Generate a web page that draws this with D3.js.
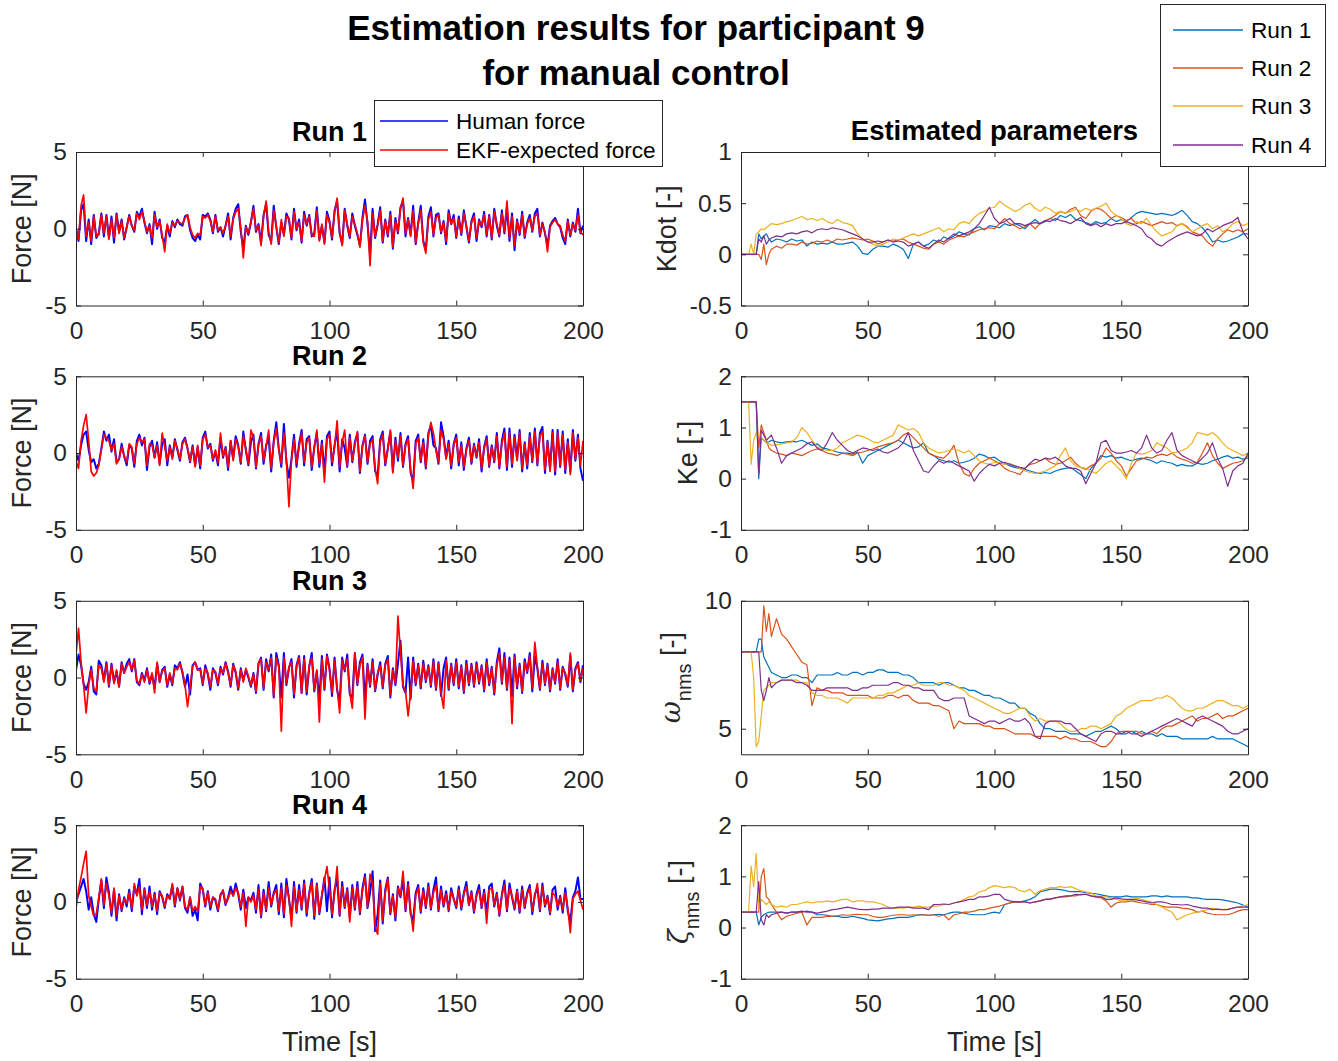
<!DOCTYPE html>
<html>
<head>
<meta charset="utf-8">
<script src="https://cdn.jsdelivr.net/npm/d3@7"></script>
<style>
  body { margin: 0; background: #fff; }
  text { font-family: Arial, "Liberation Sans", Helvetica, sans-serif; }
</style>
</head>
<body>
<svg id="fig" width="1338" height="1061"></svg>
<script>
// ---------- sample grids ----------
const forceTime = d3.range(0, 201);                               // force logged once per second
const paramTime = d3.range(0, 12).concat(d3.range(12, 201, 2));   // EKF parameter estimates
const timeTicks = [0, 50, 100, 150, 200];
const runNames = ["Run 1", "Run 2", "Run 3", "Run 4"];
const forceLegend = ["Human force", "EKF-expected force"];
const forceTicks = [-5, 0, 5];
const kdotTicks = [-0.5, 0, 0.5, 1];
const keTicks = [-1, 0, 1, 2];
const omegaTicks = [5, 10];
const zetaTicks = [-1, 0, 1, 2];

// ---------- measured human force and EKF-expected force [N] ----------
const humanForceRun1 = [0,-0.8,1.2,1.6,-0.8,0.6,-1.0,0.9,-0.6,-0.3, 1.0,-0.5,0.9,-0.6,0.8,-0.9,1.0,-0.2,0.6,-0.7, 0.1,0.9,0.2,-0.2,1.1,0.8,1.3,0.4,-0.3,0.3, -1.0,1.1,0,0.6,-0.6,-0.9,0.2,-0.5,0.5,0.1, 0.6,0.3,0.2,0.8,0.9,-0.1,-0.6,-0.8,-0.4,-0.7, 0.9,0.8,1.0,0.6,-0.3,0.9,-0.2,0.1,-0.5,0.2, 1.0,-0.7,0.7,1.3,1.6,-0.2,-1.3,0.2,-0.4,0.4, 1.5,-0.2,0.3,-0.9,0.9,1.6,-0.4,-0.8,1.5,0.1, -1.0,0.4,-0.4,1.0,0.6,-0.7,1.3,-0.1,0.6,-0.9, 1.1,0.2,0.9,-0.5,-0.3,1.4,-0.7,0.2,-0.9,1.1, 0.5,-0.7,1.2,1.8,-0.3,-1.0,1.3,0.2,-0.6,1.0, 0.2,-0.4,-1.1,0.7,1.9,0.3,-1.7,1.3,-0.6,0.3, 1.4,-0.9,0.6,-0.5,1.1,-1.3,0.7,-0.3,1.4,1.8, -0.5,0.7,-0.4,1.5,-1.0,0.4,1.5,-0.8,-1.4,0.8, 1.4,-0.5,0.9,1.0,-0.3,0.5,-1.0,1.2,0.3,0.9, -0.6,0.8,-0.4,1.2,0.1,-0.9,0.5,1.0,-0.8,0.6, 0.1,1.1,-0.5,0.9,-0.7,1.3,0.2,-0.5,1.2,-0.3, 1.4,-0.8,1.0,-1.4,0.6,-0.4,1.1,-0.6,0.4,0.9, -0.2,1.0,1.3,-0.5,0.4,-0.3,-1.1,0.2,0.5,0.7, 0.3,0.1,-0.6,-1.0,0.6,-0.5,0.4,-0.2,1.3,-0.3, 0.2];
const ekfForceRun1 = [0,-0.7,1.5,2.2,-0.5,0.4,-0.8,0.8,-0.5,-0.4, 0.9,-0.3,0.8,-0.7,0.6,-0.6,0.9,-0.3,0.5,-0.6, 0.1,0.8,0.2,-0.1,1.0,0.6,1.1,0.5,-0.2,0.2, -0.6,0.9,0.1,0.5,-0.4,-1.5,0.3,-0.3,0.4,0.2, 0.5,0.4,0.3,0.7,0.9,0.1,-0.4,-0.6,-0.3,-0.4, 0.8,0.7,0.9,0.5,-0.2,0.8,-0.1,0.1,-0.3,0.2, 0.8,-0.5,0.6,1.1,1.3,0.1,-1.9,0.1,-0.3,0.5, 1.3,-0.1,0.2,-1.1,0.8,1.8,-0.2,-1.0,1.2,0.2, -0.9,0.6,-0.5,0.8,0.7,-0.6,1.1,0.0,0.4,-0.8, 0.9,0.3,0.8,-0.4,-0.5,1.2,-0.8,0.3,-1.0,0.9, 0.4,-0.6,1.0,2.0,-0.2,-1.1,1.2,0.3,-0.5,0.8, 0.3,-0.3,-1.2,0.5,1.5,0.5,-2.4,1.0,-0.5,0.2, 1.2,-0.8,0.5,-0.4,0.9,-1.2,0.5,-0.2,1.3,2.0, -0.3,0.6,-0.5,1.2,-0.9,0.3,1.2,-0.9,-1.6,0.6, 1.1,-0.4,0.7,0.9,-0.2,0.4,-0.8,1.0,0.3,0.7, -0.5,0.6,-0.3,1.0,0.2,-0.8,0.4,0.8,-0.6,0.5, 0.2,0.9,-0.4,0.8,-0.6,1.1,0.3,-0.4,1.0,-0.2, 1.8,-0.6,0.8,-1.1,0.5,-0.3,0.9,-0.5,0.3,0.7, -0.1,0.8,1.0,-0.4,0.3,-0.2,-1.5,0.1,0.4,0.6, 0.3,0.2,-0.4,-0.8,0.5,-0.4,0.3,-0.1,0.9,-0.2, -0.4];

const humanForceRun2 = [0,-0.5,0.5,1.2,1.4,0.2,-0.6,-0.4,-1.0,-0.7, 0.3,1.4,0.8,1.2,0.1,0.9,-0.6,-0.4,0.6,-0.2, -0.8,0.5,0.3,-0.9,0.8,1.2,0.5,1.0,-1.1,0.4, 0.8,-0.3,0.7,-0.7,0.6,0.9,-0.8,0.5,-0.3,0.9, 0.2,-0.5,0.7,1.0,0.3,-0.6,0.5,-0.8,0.4,-1.0, 1.0,1.4,0.3,0.6,-0.5,0.1,-0.8,1.0,-0.3,0.4, -1.1,0.8,-0.4,1.1,0.5,-0.7,1.4,0.2,-0.8,0.7, 1.2,-1.0,0.6,1.3,-0.7,0.5,1.0,-1.2,0.8,2.0, 0.3,-0.9,1.9,-0.6,-1.6,-0.4,1.2,-0.9,0.6,1.5, -0.8,0.9,1.1,-1.1,0.4,1.3,-0.9,0.8,-1.3,1.1, 1.4,-0.8,0.5,1.5,-1.2,0.9,0.3,-0.9,1.2,-0.6, 0.7,1.3,-1.3,0.5,1.2,-0.7,0.8,1.1,-1.2,-1.5, 0.9,1.4,-0.8,0.3,1.4,-1.2,1.0,-0.5,1.3,-0.9, 0.6,1.1,-1.3,-1.8,0.8,1.2,-0.6,0.9,-1.0,1.3, 1.8,0.5,0.3,-0.7,2.0,1.1,-0.3,0.8,-1.0,0.6, 1.2,-0.8,0.7,-1.1,0.3,1.0,-0.7,0.6,-0.3,0.9, -1.2,0.4,1.1,-0.9,0.5,-0.6,1.3,-1.0,0.8,1.6, -1.1,1.6,-0.9,1.2,-0.4,1.5,-1.2,0.7,-1.0,1.3, -0.6,1.6,-0.8,1.3,1.7,-1.3,0.8,-1.0,1.5,-1.4, 1.5,-0.9,1.4,-1.3,0.9,-1.2,1.5,-0.5,1.2,-1.0, -1.8];
const ekfForceRun2 = [-0.5,-1.0,0.8,1.8,2.5,0.8,-1.2,-1.5,-1.3,-0.8, 0.2,1.2,1.0,0.8,0.2,0.6,-0.7,-0.4,0.4,-0.2, -0.6,0.6,0.4,-0.7,0.6,1.0,0.7,0.9,-0.8,0.6, 0.5,-0.3,0.5,-0.8,1.3,0.4,-0.5,0.4,-0.4,0.8, 0.3,-0.4,0.6,0.9,0.3,-0.5,0.4,-0.9,0.5,-0.8, 0.9,1.2,0.4,0.5,-0.4,0.2,-0.6,1.3,-0.2,0.3, -0.9,0.8,-0.5,0.9,0.4,-0.6,1.1,0.2,-0.7,1.5, 1.0,-0.9,0.5,1.1,-0.5,0.4,1.5,-1.0,0.7,1.6, 0.2,-0.7,1.3,-0.4,-3.5,-0.5,0.9,-0.7,0.4,1.3, -0.6,0.7,1.0,-0.9,0.3,1.5,-0.7,0.6,-1.9,0.9, 1.2,-0.6,0.4,2.1,-0.9,0.7,1.5,-0.8,1.0,-0.5, 0.5,1.4,-1.2,0.4,1.1,-0.6,0.6,0.9,-1.0,-2.0, 0.7,1.2,-0.7,0.2,1.5,-1.3,0.8,-0.3,1.1,-0.8, 0.5,0.9,-1.1,-2.3,0.6,1.0,-0.5,0.7,-0.9,1.1, 2.0,1.3,0.2,-0.6,1.5,0.9,-0.4,0.6,-0.8,0.5, 1.0,-0.6,0.5,-0.9,0.2,0.8,-0.6,0.5,-0.2,0.7, -1.0,0.3,0.9,-0.8,0.4,-0.5,1.1,-0.9,0.6,1.3, -0.9,1.3,-0.7,1.0,-0.5,1.3,-1.0,0.6,-0.8,1.1, -0.5,1.4,-0.7,1.1,1.4,-1.1,0.7,-1.2,1.3,-1.2, 1.3,-0.8,1.2,-1.1,0.7,-1.4,1.3,-0.4,1.0,-0.8, 0.8];

const humanForceRun3 = [0.5,1.5,0.8,-0.4,-0.8,-0.3,0.7,-0.9,-1.1,1.1, 0.8,-0.2,1.0,-0.6,0.9,-0.3,0.4,-0.6,1.0,0.3, 0.9,1.2,0.4,1.2,-0.3,-0.5,0.3,-0.2,0.6,-0.4, 0.2,-0.7,0.9,-0.3,0.5,0.7,-0.6,0.2,-0.5,0.8, 0.6,1.0,0.3,-0.6,0.2,-1.1,0.8,1.0,0.5,0.6, -0.5,0.8,0.2,-0.8,0.6,0.3,-0.5,0.7,0.2,1.0, 0.4,-0.6,0.9,0.3,-0.8,0.6,-0.2,0.5,0.0,-0.6, 0.3,-1.0,0.9,1.3,-0.8,1.2,0.4,1.5,-1.3,1.6, 0.8,-1.3,1.6,-0.5,0.6,1.2,-1.3,0.8,1.4,-1.0, 1.4,-1.1,0.7,1.6,-0.9,0.4,-1.5,1.4,-0.8,1.5, 0.6,-1.2,1.3,-0.8,-1.6,1.3,0.4,1.5,-1.1,-1.3, 1.6,-0.5,1.0,1.5,-1.5,0.9,-0.6,1.2,-0.9,0.2, 1.0,-0.7,0.9,1.4,-1.3,0.6,-0.5,0.9,2.4,-0.6, -1.0,1.3,-1.4,1.3,-0.5,0.9,-0.7,1.1,-0.3,0.8, -0.6,1.2,-0.8,1.0,-1.2,0.6,1.3,-0.8,0.9,-0.5, 1.2,-0.7,0.8,-1.0,1.1,-0.5,0.9,-0.6,1.0,-0.4, 0.8,-0.9,1.2,-0.5,0.7,-1.1,1.0,1.9,-0.4,1.6, -0.8,1.3,-1.2,1.5,-0.7,0.9,-1.0,1.2,0.3,1.6, -0.9,1.4,0.6,-0.8,1.1,-0.5,0.9,-0.9,0.6,-0.4, 1.2,-0.8,0.7,0.2,-0.6,1.4,-0.9,0.6,1.0,-0.3, 0.8];
const ekfForceRun3 = [1.5,3.2,1.0,-0.5,-2.3,-0.5,0.5,-0.7,-0.9,0.8, 0.6,-0.3,0.9,-0.5,0.8,-0.4,0.5,-0.6,0.9,0.3, 0.7,1.0,0.5,1.1,-0.2,-0.4,0.2,-0.3,0.5,-0.3, 0.3,-1.0,1.0,-0.3,0.4,0.6,-0.5,0.3,-0.4,0.6, 0.5,0.9,0.4,-0.5,-1.9,-0.6,0.7,1.0,0.5,0.5, -0.4,0.6,0.3,-0.6,0.5,0.4,-0.4,0.6,0.3,0.9, 0.3,-0.5,0.8,0.4,-0.7,0.5,-0.3,0.6,0.1,-0.5, 0.2,-0.9,1.0,1.2,-0.7,1.0,0.5,1.3,-1.2,1.3, 0.7,-3.5,1.3,-0.4,0.7,1.0,-1.1,0.7,1.3,-1.0, 1.2,-0.9,0.8,1.3,-0.8,0.5,-2.9,1.2,-0.7,1.4, 0.5,-1.0,1.1,-0.7,-2.3,1.1,0.5,1.2,-1.0,-2.0, 1.6,-0.4,0.8,1.3,-2.7,0.8,-0.5,1.0,-0.8,0.3, 0.8,-0.6,0.8,1.2,-1.1,0.5,-0.4,4.0,1.6,-0.5, -0.9,-2.5,-1.0,1.1,-0.4,0.8,-0.6,0.9,-0.2,0.7, -0.5,1.0,-0.7,0.9,-1.0,-2.0,1.1,-0.7,0.8,-0.4, 1.0,-0.6,0.7,-0.9,0.9,-0.4,0.8,-0.5,0.9,-0.3, 0.7,-0.8,1.0,-0.4,0.6,-1.0,0.8,1.6,-0.3,1.3, -0.7,1.1,-3.0,1.3,-0.6,0.8,-0.9,1.0,0.4,1.4, -0.7,2.3,0.7,-0.7,0.9,-0.4,0.8,-0.8,0.5,-0.3, 1.0,-0.7,0.6,0.3,-0.5,1.6,-0.8,0.5,0.9,-0.2, 0.6];

const humanForceRun4 = [0,0.5,1.0,1.5,0.7,-0.5,0.3,-0.8,-1.3,0.2, 1.4,-0.4,1.6,0.6,-0.9,0.8,-1.2,0.5,-0.6,0.3, -0.3,0.8,-0.6,1.0,0.5,1.5,-0.8,0.9,-0.4,1.0, -0.5,0.6,-0.8,0.7,0.3,-0.4,0.5,0.2,1.1,-0.3, 0.9,0.1,1.0,-0.4,-0.7,0.3,-0.9,-0.5,-1.2,1.2, 0.8,-0.3,0.7,-0.5,0.3,0.1,-0.6,0.5,0.7,-0.2, 0.3,1.0,0.4,1.2,0.5,-0.5,0.8,-0.4,0.3,0.1, 0.6,-0.7,1.1,-1.0,0.8,-0.6,1.3,-0.3,0.6,1.1, -0.8,1.2,-1.0,1.5,0.2,-1.1,1.3,-0.7,1.1,-0.5, 1.4,-0.9,0.6,1.5,-1.1,1.2,-0.8,0.4,1.6,-0.6, 1.6,-1.0,0.8,1.5,-0.9,1.3,-0.4,0.9,-1.0,1.1, -0.5,1.3,-0.8,0.9,1.8,-0.4,0.6,2.0,-1.9,-0.8, 1.4,-1.4,0.8,1.6,-0.8,0.5,-1.2,1.0,0.3,1.5, -0.6,1.3,-0.8,-1.2,0.6,1.1,-0.7,0.9,-0.4,1.2, -0.5,0.8,1.6,-0.6,1.0,-0.3,0.7,-0.6,0.9,0.2, -0.4,1.0,-0.5,0.6,1.3,-0.2,0.7,-0.7,0.5,1.1, -0.4,0.8,-0.8,1.0,1.2,-0.3,0.6,-0.9,0.5,1.4, -0.6,1.2,0.3,-0.5,0.8,-0.7,1.0,-0.4,0.6,1.1, -0.8,0.5,0.9,-0.6,1.2,-0.3,0.4,-0.8,0.8,1.0, -0.5,0.4,-0.7,0.9,-0.6,-1.3,0.3,0.7,1.6,0.2, 0.2];
const ekfForceRun4 = [-0.4,0.8,1.6,2.5,3.3,0.4,-0.3,-0.9,-0.8,0.3, 1.5,-0.2,1.2,0.4,-0.7,0.9,-0.9,0.4,-0.5,0.2, -0.1,0.6,-0.4,1.2,0.4,1.0,-0.5,0.8,-0.2,0.7, -0.3,0.5,-0.6,0.6,0.4,-0.3,0.4,0.2,1.2,-0.2, 0.9,0.2,1.0,-0.3,-0.5,0.3,-0.6,-0.3,-0.6,1.0, 0.9,-0.2,0.6,-0.3,0.3,0.2,-0.5,0.4,0.8,-0.1, 0.2,0.7,0.4,0.9,0.6,-0.3,0.6,-1.6,0.3,0.0, 0.4,-0.5,0.8,-0.9,0.6,-0.5,0.9,-0.2,0.5,0.8, -0.6,0.9,-0.8,1.1,0.3,-1.6,1.0,-0.6,0.8,-0.4, 1.2,-0.7,0.5,1.3,-0.9,1.1,-0.7,0.5,1.4,2.3, 0.8,-0.8,0.6,2.3,-0.8,1.0,-0.3,0.8,-1.3,0.9, -0.4,1.0,-0.7,0.7,1.6,-0.3,1.8,1.2,-1.6,-2.1, 1.2,-1.2,0.6,1.5,-0.7,0.4,-1.0,0.9,0.4,2.0, -0.5,1.1,-0.6,-1.9,0.4,0.9,-0.6,0.7,-0.3,1.0, -0.4,0.6,1.1,-0.5,0.8,-0.2,0.5,-0.5,0.7,0.2, -0.3,0.8,-0.4,0.5,1.0,-0.2,0.6,-0.6,0.4,0.8, -0.3,0.6,-1.4,0.8,0.9,-0.2,0.5,-0.8,0.4,1.1, -0.5,0.9,0.4,-0.4,0.7,-0.6,0.8,-0.3,0.5,0.9, -0.6,0.4,1.2,-0.5,1.0,-0.2,0.3,-0.7,0.6,0.4, -0.3,0.3,-0.5,0.6,-0.4,-2.0,0.2,0.5,0.7,0.1, -0.5];

// ---------- estimated parameters, sampled on paramTime ----------
const kdotRun1 = [0,0,0,0,0,0,0,0.2,0.15,0.18,0.2,0.15, 0.12,0.15,0.14,0.12,0.15,0.13,0.14,0.08,0.12,0.1, 0.11,0.1,0.12,0.1,0.1,0.11,0.12,0.08,0.01,0.0, 0.05,0.08,0.08,0.07,0.1,0.08,0.05,-0.04,0.1,0.12, 0.08,0.1,0.14,0.12,0.17,0.15,0.18,0.22,0.2,0.19, 0.25,0.27,0.24,0.28,0.27,0.26,0.3,0.28,0.3,0.28, 0.25,0.3,0.34,0.3,0.32,0.35,0.33,0.38,0.36,0.39, 0.34,0.33,0.31,0.29,0.32,0.3,0.31,0.35,0.32,0.34, 0.32,0.36,0.4,0.42,0.41,0.4,0.39,0.4,0.39,0.38, 0.4,0.43,0.38,0.32,0.3,0.26,0.2,0.12,0.14,0.12, 0.13,0.15,0.17,0.2,0.2];
const kdotRun2 = [0,0,0,0,0,0,0,0,-0.05,0.1,-0.1,0.0, 0.05,0.08,0.06,0.1,0.1,0.09,0.12,0.1,0.11,0.13, 0.12,0.14,0.12,0.15,0.14,0.15,0.16,0.15,0.14,0.15, 0.13,0.1,0.12,0.14,0.13,0.14,0.15,0.12,0.1,0.08, 0.06,0.05,0.1,0.12,0.1,0.14,0.16,0.18,0.17,0.2, 0.22,0.24,0.25,0.26,0.25,0.3,0.35,0.3,0.28,0.25, 0.27,0.3,0.25,0.3,0.33,0.35,0.38,0.42,0.4,0.44, 0.46,0.38,0.35,0.42,0.45,0.44,0.4,0.35,0.38,0.36, 0.33,0.35,0.3,0.32,0.3,0.28,0.3,0.32,0.3,0.31, 0.28,0.3,0.27,0.22,0.2,0.18,0.12,0.08,0.15,0.2, 0.24,0.22,0.24,0.22,0.25];
const kdotRun3 = [0,0,0,0,0.1,0.0,0.2,0.22,0.25,0.24,0.26,0.28, 0.3,0.29,0.3,0.32,0.33,0.35,0.37,0.34,0.35,0.33, 0.35,0.32,0.3,0.34,0.31,0.3,0.28,0.2,0.15,0.12, 0.1,0.08,0.1,0.12,0.15,0.14,0.16,0.18,0.2,0.18, 0.2,0.22,0.24,0.26,0.22,0.25,0.24,0.3,0.32,0.3, 0.36,0.4,0.42,0.45,0.46,0.52,0.48,0.45,0.42,0.44, 0.48,0.5,0.45,0.42,0.46,0.44,0.4,0.42,0.4,0.42, 0.44,0.42,0.45,0.43,0.45,0.47,0.5,0.42,0.38,0.35, 0.3,0.28,0.32,0.3,0.35,0.28,0.22,0.18,0.2,0.22, 0.28,0.3,0.26,0.22,0.25,0.28,0.3,0.25,0.28,0.22, 0.25,0.3,0.32,0.28,0.3];
const kdotRun4 = [0,0,0,0,0,0,0,0.15,0.12,0.18,0.1,0.14, 0.16,0.18,0.17,0.2,0.21,0.2,0.22,0.23,0.21,0.24, 0.25,0.24,0.26,0.25,0.24,0.22,0.2,0.18,0.15,0.12, 0.12,0.13,0.12,0.14,0.12,0.13,0.12,0.08,0.1,0.12, 0.08,0.06,0.1,0.14,0.12,0.16,0.2,0.18,0.2,0.22, 0.25,0.3,0.38,0.46,0.35,0.3,0.32,0.35,0.3,0.3, 0.28,0.3,0.31,0.3,0.33,0.32,0.35,0.33,0.32,0.3, 0.33,0.36,0.3,0.28,0.3,0.27,0.3,0.28,0.3,0.3, 0.32,0.3,0.28,0.25,0.18,0.15,0.1,0.08,0.12,0.15, 0.18,0.2,0.22,0.2,0.18,0.2,0.25,0.22,0.25,0.28, 0.3,0.32,0.36,0.22,0.15];

const keRun1 = [1.5,1.5,1.5,1.5,1.5,1.5,1.5,0.0,0.8,0.75,0.7,0.72, 0.75,0.72,0.7,0.72,0.73,0.72,0.75,0.7,0.65,0.68, 0.6,0.58,0.55,0.52,0.5,0.5,0.48,0.52,0.3,0.45, 0.5,0.55,0.6,0.65,0.7,0.75,0.7,0.65,0.6,0.62, 0.7,0.5,0.45,0.38,0.35,0.32,0.35,0.3,0.32,0.35, 0.4,0.48,0.45,0.4,0.42,0.35,0.3,0.25,0.22,0.2, 0.18,0.15,0.12,0.1,0.12,0.1,0.15,0.18,0.2,0.22, 0.15,0.08,0.0,0.2,0.3,0.45,0.42,0.45,0.4,0.42, 0.38,0.35,0.38,0.4,0.38,0.35,0.3,0.35,0.32,0.3, 0.25,0.28,0.25,0.25,0.3,0.28,0.3,0.35,0.38,0.42, 0.45,0.4,0.42,0.38,0.4];
const keRun2 = [1.5,1.5,1.5,1.5,1.5,1.5,1.5,0.6,1.05,0.9,0.75,0.6, 0.55,0.5,0.48,0.45,0.5,0.48,0.45,0.5,0.55,0.58, 0.55,0.5,0.48,0.45,0.5,0.48,0.45,0.5,0.52,0.55, 0.58,0.62,0.65,0.68,0.7,0.75,0.85,0.9,0.8,0.7, 0.6,0.5,0.45,0.42,0.4,0.5,0.65,0.3,0.1,0.05, 0.2,0.3,0.35,0.4,0.35,0.3,0.2,0.15,0.12,0.08, 0.2,0.28,0.3,0.35,0.4,0.32,0.28,0.3,0.35,0.42, 0.3,0.22,0.18,0.25,0.3,0.4,0.6,0.5,0.35,0.25, 0.05,0.2,0.35,0.38,0.42,0.4,0.45,0.48,0.45,0.5, 0.42,0.38,0.35,0.3,0.32,0.5,0.7,0.45,0.3,0.2, 0.25,0.3,0.32,0.35,0.45];
const keRun3 = [1.5,1.5,1.5,1.5,0.28,0.75,0.9,0.85,0.8,0.75,0.7,0.68, 0.65,0.66,0.68,0.7,0.72,0.8,1.0,0.9,0.75,0.62, 0.58,0.55,0.55,0.6,0.7,0.75,0.8,0.85,0.82,0.78, 0.72,0.7,0.75,0.8,0.85,1.05,1.0,0.95,0.98,0.9, 0.7,0.6,0.55,0.5,0.52,0.55,0.58,0.55,0.5,0.55, 0.45,0.35,0.3,0.28,0.32,0.3,0.28,0.3,0.25,0.2, 0.15,0.12,0.1,0.12,0.15,0.2,0.25,0.45,0.6,0.35, 0.25,0.22,0.2,0.15,0.1,0.2,0.3,0.35,0.25,0.15, 0.0,0.3,0.5,0.48,0.5,0.55,0.7,0.65,0.6,0.5, 0.52,0.55,0.6,0.7,0.9,0.88,0.85,0.9,0.82,0.7, 0.6,0.55,0.5,0.45,0.5];
const keRun4 = [1.5,1.5,1.5,1.5,1.5,1.5,1.5,0.1,0.95,0.85,0.75,0.8, 0.85,0.6,0.3,0.45,0.5,0.55,0.6,0.68,0.72,0.6, 0.55,0.7,0.9,0.75,0.65,0.55,0.5,0.55,0.6,0.58, 0.55,0.58,0.52,0.5,0.55,0.6,0.7,0.9,0.55,0.35, 0.15,0.12,0.25,0.35,0.3,0.35,0.3,0.25,0.2,0.15, -0.05,0.1,0.2,0.28,0.25,0.3,0.32,0.28,0.25,0.22, 0.2,0.3,0.38,0.35,0.4,0.38,0.42,0.35,0.25,0.2, 0.2,0.15,-0.1,0.1,0.3,0.7,0.75,0.55,0.5,0.5, 0.52,0.55,0.5,0.6,0.85,0.6,0.5,0.55,0.75,0.9, 0.55,0.45,0.4,0.35,0.3,0.4,0.5,0.7,0.4,0.2, -0.15,0.15,0.25,0.3,0.5];

const omegaRun1 = [8,8,8,8,8,8,8,8.5,8.5,7.8,7.6,7.4, 7.2,7.1,7.0,7.0,7.1,7.1,7.0,7.0,6.8,7.1, 7.1,7.1,7.1,7.2,7.1,7.1,7.2,7.2,7.1,7.2, 7.2,7.3,7.3,7.2,7.2,7.2,7.1,7.1,7.0,6.8, 6.8,6.8,6.8,6.7,6.8,6.8,6.7,6.6,6.6,6.5, 6.5,6.4,6.3,6.3,6.2,6.2,6.1,6.0,6.0,5.8, 5.8,5.6,5.5,5.2,5.0,5.0,4.9,4.9,4.9,4.8, 4.8,4.8,4.7,4.8,4.9,4.9,5.0,5.1,5.0,4.8, 4.8,4.9,4.8,4.9,4.8,4.8,4.7,4.8,4.7,4.7, 4.7,4.6,4.6,4.6,4.6,4.6,4.6,4.7,4.6,4.6, 4.6,4.6,4.5,4.4,4.3];
const omegaRun2 = [8,8,8,8,8,8,8,8,8,9.8,8.8,9.5, 8.6,9.3,8.7,8.5,8.2,7.9,7.6,7.5,5.9,6.6, 6.5,6.5,6.4,6.4,6.4,6.3,6.3,6.3,6.3,6.3, 6.2,6.2,6.2,6.3,6.3,6.2,6.3,6.3,6.1,6.0, 6.0,6.0,5.9,5.9,5.8,5.7,5.0,5.3,5.2,5.2, 5.2,5.2,5.1,5.1,5.0,5.0,5.0,4.9,4.8,4.8, 4.8,4.8,4.7,4.7,4.7,4.7,4.7,4.6,4.7,4.6, 4.6,4.5,4.5,4.5,4.4,4.3,4.3,4.5,4.8,4.9, 4.9,4.9,4.9,4.8,4.8,4.9,4.8,5.0,5.1,5.1, 5.2,5.3,5.4,5.5,5.3,5.4,5.4,5.5,5.6,5.4, 5.5,5.5,5.6,5.7,5.8];
const omegaRun3 = [8,8,8,8,8,7.0,4.3,4.5,5.5,6.5,6.6,6.7, 6.8,6.8,6.9,6.9,6.9,6.9,6.8,6.8,6.4,6.3, 6.3,6.2,6.2,6.2,6.1,6.0,6.2,6.2,6.2,6.2, 6.2,6.3,6.3,6.4,6.4,6.5,6.6,6.7,6.7,6.8, 6.7,6.7,6.7,6.8,6.8,6.7,6.7,6.6,6.5,6.3, 6.2,6.1,6.0,5.9,5.8,5.7,5.6,5.6,5.7,5.8, 5.8,5.5,5.3,5.4,5.3,5.3,5.3,5.2,5.0,4.9, 4.9,5.0,5.0,5.1,5.1,5.0,5.1,5.2,5.5,5.6, 5.8,5.9,6.0,6.1,6.1,6.1,6.2,6.2,6.3,6.2, 6.0,5.8,5.7,5.7,5.8,5.8,5.9,6.0,6.1,6.1, 6.0,5.9,5.9,5.8,5.9];
const omegaRun4 = [8,8,8,8,8,8,8,8,6.5,6.1,6.5,7.0, 6.6,6.8,6.9,6.9,6.9,6.8,6.8,6.7,6.5,6.5, 6.5,6.6,6.6,6.6,6.6,6.6,6.5,6.5,6.6,6.6, 6.7,6.7,6.7,6.7,6.8,6.8,6.7,6.7,6.6,6.6, 6.5,6.5,6.5,6.2,6.1,6.1,6.2,6.2,6.2,5.5, 5.4,5.3,5.2,5.3,5.3,5.2,5.3,5.4,5.3,5.3, 5.4,5.2,4.7,4.6,5.2,5.3,5.3,5.3,5.2,5.2, 5.0,4.8,4.7,4.6,4.5,4.8,4.9,4.9,4.8,4.8, 4.9,4.8,4.8,4.7,4.8,4.9,5.0,5.1,5.2,5.3, 5.4,5.3,5.2,5.1,5.4,5.5,5.4,5.3,5.2,5.1, 4.9,4.8,4.8,4.9,5.0];

const zetaRun1 = [0.3,0.3,0.3,0.3,0.3,0.3,0.3,0.05,0.2,0.25,0.28,0.3, 0.3,0.3,0.3,0.28,0.3,0.3,0.3,0.32,0.3,0.25, 0.25,0.24,0.22,0.22,0.2,0.2,0.22,0.2,0.18,0.15, 0.14,0.13,0.15,0.17,0.18,0.2,0.2,0.2,0.22,0.25, 0.25,0.24,0.25,0.26,0.25,0.28,0.3,0.3,0.28,0.26, 0.25,0.25,0.25,0.28,0.3,0.28,0.45,0.48,0.5,0.5, 0.52,0.55,0.6,0.7,0.72,0.75,0.75,0.74,0.72,0.7, 0.7,0.7,0.68,0.67,0.66,0.64,0.62,0.6,0.6,0.6, 0.62,0.6,0.6,0.6,0.6,0.62,0.62,0.6,0.62,0.6, 0.6,0.6,0.6,0.58,0.58,0.56,0.55,0.55,0.55,0.54, 0.52,0.5,0.48,0.44,0.4];
const zetaRun2 = [0.3,0.3,0.3,0.3,0.3,0.3,0.3,0.3,1.0,1.15,0.6,0.55, 0.45,0.3,0.15,0.22,0.25,0.28,0.3,0.05,0.2,0.2, 0.2,0.22,0.22,0.23,0.25,0.24,0.25,0.26,0.25,0.25, 0.22,0.2,0.2,0.22,0.24,0.25,0.25,0.24,0.25,0.24, 0.25,0.24,0.25,0.22,0.25,0.15,0.25,0.27,0.3,0.3, 0.32,0.35,0.35,0.38,0.4,0.42,0.45,0.48,0.5,0.5, 0.5,0.48,0.5,0.52,0.55,0.55,0.58,0.6,0.6,0.62, 0.62,0.65,0.65,0.62,0.6,0.58,0.52,0.4,0.48,0.5, 0.5,0.52,0.5,0.48,0.47,0.45,0.45,0.42,0.4,0.4, 0.4,0.38,0.37,0.35,0.3,0.32,0.28,0.26,0.25,0.25, 0.25,0.28,0.32,0.35,0.35];
const zetaRun3 = [0.3,0.3,0.3,0.3,1.2,0.8,1.45,0.4,0.55,0.5,0.45,0.5, 0.45,0.4,0.42,0.4,0.45,0.45,0.48,0.5,0.48,0.5, 0.5,0.52,0.5,0.52,0.55,0.55,0.5,0.52,0.52,0.5, 0.5,0.48,0.45,0.4,0.38,0.38,0.38,0.4,0.4,0.42, 0.4,0.4,0.42,0.42,0.45,0.45,0.48,0.5,0.55,0.6, 0.62,0.7,0.72,0.78,0.82,0.8,0.78,0.8,0.78,0.72, 0.7,0.75,0.65,0.72,0.75,0.78,0.78,0.8,0.78,0.8, 0.76,0.72,0.7,0.68,0.62,0.6,0.6,0.58,0.55,0.52, 0.52,0.55,0.57,0.55,0.52,0.5,0.45,0.4,0.35,0.3, 0.15,0.2,0.25,0.28,0.3,0.32,0.35,0.38,0.35,0.35, 0.36,0.38,0.4,0.42,0.45];
const zetaRun4 = [0.3,0.3,0.3,0.3,0.3,0.3,0.3,0.9,0.15,0.05,0.25,0.2, 0.25,0.28,0.3,0.28,0.3,0.3,0.32,0.3,0.3,0.28, 0.3,0.32,0.35,0.36,0.38,0.4,0.38,0.36,0.35,0.35, 0.36,0.36,0.38,0.38,0.38,0.4,0.4,0.4,0.38,0.38, 0.38,0.35,0.45,0.45,0.46,0.45,0.48,0.5,0.52,0.55, 0.55,0.6,0.6,0.62,0.65,0.65,0.55,0.52,0.5,0.5, 0.5,0.48,0.5,0.52,0.55,0.56,0.58,0.6,0.62,0.62, 0.65,0.64,0.65,0.62,0.6,0.6,0.55,0.55,0.58,0.56, 0.55,0.55,0.54,0.52,0.5,0.48,0.5,0.5,0.48,0.45, 0.45,0.44,0.45,0.42,0.4,0.38,0.38,0.35,0.36,0.35, 0.35,0.38,0.4,0.4,0.4];

// ---------- drawing ----------
const INK = "#262626";
const runColors = ["#0072BD", "#D95319", "#EDB120", "#7E2F8E"];
const forceColors = ["#0000FF", "#FF0000"];
const svg = d3.select("#fig");

const leftX = 76, rightX = 741, axW = 507, axH = 153.5;
const rowTops = [152, 376.3, 600.8, 825.2];
let clipId = 0;

function makeAxes(left, top, yDomain, yTicks) {
  const x = d3.scaleLinear().domain([0, 200]).range([left, left + axW]);
  const y = d3.scaleLinear().domain(yDomain).range([top + axH, top]);
  const g = svg.append("g");
  const id = "clip" + (clipId++);
  svg.append("clipPath").attr("id", id)
    .append("rect").attr("x", left).attr("y", top).attr("width", axW).attr("height", axH);
  const plot = g.append("g").attr("clip-path", `url(#${id})`);

  const fmt = d => String(d);
  const axes = [
    g.append("g").attr("transform", `translate(0,${top + axH})`)
      .call(d3.axisBottom(x).tickValues(timeTicks).tickSize(-5).tickSizeOuter(0).tickPadding(16).tickFormat(fmt)),
    g.append("g").attr("transform", `translate(0,${top})`)
      .call(d3.axisTop(x).tickValues(timeTicks).tickSize(-5).tickSizeOuter(0).tickFormat("")),
    g.append("g").attr("transform", `translate(${left},0)`)
      .call(d3.axisLeft(y).tickValues(yTicks).tickSize(-5).tickSizeOuter(0).tickPadding(9).tickFormat(fmt)),
    g.append("g").attr("transform", `translate(${left + axW},0)`)
      .call(d3.axisRight(y).tickValues(yTicks).tickSize(-5).tickSizeOuter(0).tickFormat(""))
  ];
  axes.forEach(a => {
    a.select(".domain").attr("stroke", INK).attr("stroke-width", 1);
    a.selectAll(".tick line").attr("stroke", INK).attr("stroke-width", 1);
    a.selectAll(".tick text").attr("fill", INK).style("font-size", "24.5px")
      .style("font-family", 'Arial, "Liberation Sans", Helvetica, sans-serif');
  });
  return { x, y, plot };
}

function drawSeries(ax, times, values, color, width) {
  const line = d3.line().x((d, i) => ax.x(times[i])).y(d => ax.y(d));
  ax.plot.append("path").datum(values.slice(0, times.length))
    .attr("d", line).attr("fill", "none").attr("stroke", color)
    .attr("stroke-width", width).attr("stroke-linejoin", "round");
}

function yLabel(cx, cy, parts) {
  const t = svg.append("text").attr("transform", `translate(${cx},${cy}) rotate(-90)`)
    .attr("text-anchor", "middle").attr("fill", INK).style("font-size", "27px");
  parts.forEach(p => {
    const s = t.append("tspan").text(p.text);
    if (p.sub) s.attr("baseline-shift", "sub").style("font-size", "20px");
    if (p.italic) s.style("font-family", '"DejaVu Serif", serif').style("font-style", "italic");
  });
}

function title(cx, y, str, size) {
  svg.append("text").attr("x", cx).attr("y", y).attr("text-anchor", "middle")
    .attr("fill", "#000").style("font-size", size + "px").style("font-weight", "bold").text(str);
}

// left column: force per run
const humanForce = [humanForceRun1, humanForceRun2, humanForceRun3, humanForceRun4];
const ekfForce = [ekfForceRun1, ekfForceRun2, ekfForceRun3, ekfForceRun4];
rowTops.forEach((top, r) => {
  const ax = makeAxes(leftX, top, [-5, 5], forceTicks);
  drawSeries(ax, forceTime, humanForce[r], forceColors[0], 2.0);
  drawSeries(ax, forceTime, ekfForce[r], forceColors[1], 1.7);
  title(leftX + axW / 2, top - 11, runNames[r], 27);
  yLabel(31, top + axH / 2, [{ text: "Force [N]" }]);
});

// right column: parameter estimates
const params = [
  { runs: [kdotRun1, kdotRun2, kdotRun3, kdotRun4], domain: [-0.5, 1], ticks: kdotTicks,
    label: [{ text: "Kdot [-]" }], lx: 676 },
  { runs: [keRun1, keRun2, keRun3, keRun4], domain: [-1, 2], ticks: keTicks,
    label: [{ text: "Ke [-]" }], lx: 697 },
  { runs: [omegaRun1, omegaRun2, omegaRun3, omegaRun4], domain: [4, 10], ticks: omegaTicks,
    label: [{ text: "ω", italic: true }, { text: "nms", sub: true }, { text: "  [-]" }], lx: 680 },
  { runs: [zetaRun1, zetaRun2, zetaRun3, zetaRun4], domain: [-1, 2], ticks: zetaTicks,
    label: [{ text: "ζ", italic: true }, { text: "nms", sub: true }, { text: "  [-]" }], lx: 688 }
];
params.forEach((p, r) => {
  const ax = makeAxes(rightX, rowTops[r], p.domain, p.ticks);
  p.runs.forEach((vals, k) => drawSeries(ax, paramTime, vals, runColors[k], 1.2));
  yLabel(p.lx, rowTops[r] + axH / 2, p.label);
});
title(rightX + axW / 2, 140, "Estimated parameters", 27.5);

// x-axis labels under the bottom row
[leftX, rightX].forEach(lx => {
  svg.append("text").attr("x", lx + axW / 2).attr("y", 1051).attr("text-anchor", "middle")
    .attr("fill", INK).style("font-size", "27px").text("Time [s]");
});

// overall title
title(636, 40, "Estimation results for participant 9", 35);
title(636, 85, "for manual control", 35);

// legends
function legend(x, y, w, h, entries, colors, lineX0, lineX1, textX, rowsY) {
  const g = svg.append("g");
  g.append("rect").attr("x", x).attr("y", y).attr("width", w).attr("height", h)
    .attr("fill", "#fff").attr("stroke", INK).attr("stroke-width", 1);
  entries.forEach((e, i) => {
    g.append("line").attr("x1", lineX0).attr("x2", lineX1).attr("y1", rowsY[i]).attr("y2", rowsY[i])
      .attr("stroke", colors[i]).attr("stroke-width", 1.3);
    g.append("text").attr("x", textX).attr("y", rowsY[i]).attr("dy", "0.35em")
      .attr("fill", "#000").style("font-size", "22.6px").text(e);
  });
}
legend(374.5, 100.5, 288, 66, forceLegend, forceColors, 380, 448, 456, [121, 150]);
legend(1160.5, 4.5, 165, 162, runNames, runColors, 1173, 1243, 1251, [30, 68, 106, 145]);
</script>
</body>
</html>
